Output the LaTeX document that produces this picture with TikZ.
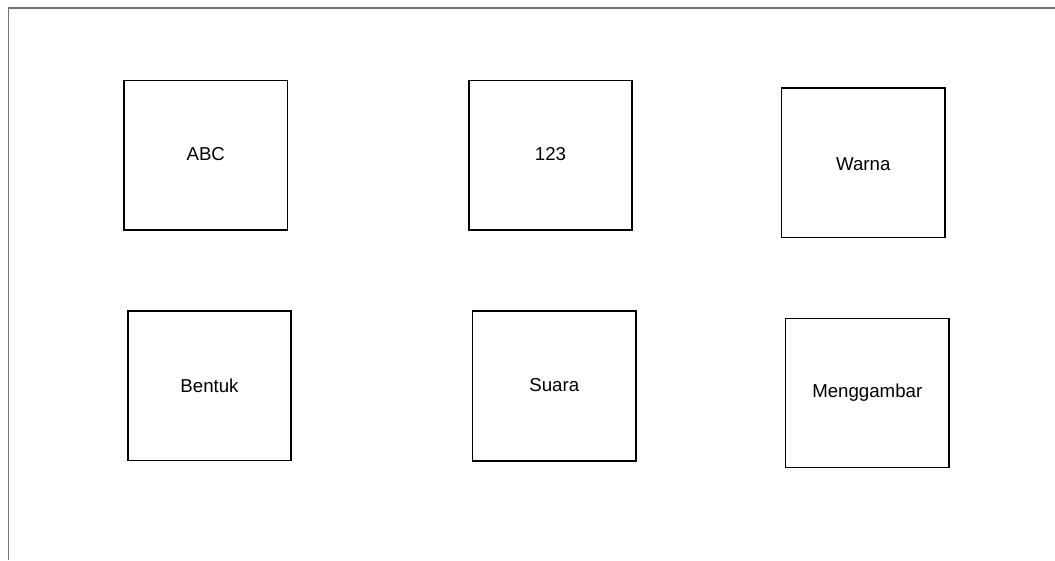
\documentclass[tikz,border=0pt]{standalone}
\usepackage{fontspec}
\setmainfont{Liberation Sans}
\begin{document}
\begin{tikzpicture}[x=0.75pt,y=-0.75pt,
  card/.style={draw=black,line width=0.8pt,fill=white},
  lbl/.style={font=\fontsize{14}{16}\selectfont,text=black},
  frame/.style={draw=black!55,line width=1.4pt}]
\useasboundingbox (0,0) rectangle (1055,560);
\coordinate (fb) at (8.5,560);
\coordinate (fc) at (8.5,8);
\coordinate (fr) at (1055,8);
\draw[frame] (fb) -- (fc) -- (fr);
\draw[card] (124,80.5) rectangle (287.5,230) node[midway,lbl,yshift=1pt] (a) {ABC};
\draw[card] (469,80.5) rectangle (632,230) node[midway,lbl,yshift=1pt] (b) {123};
\draw[card] (781.5,88) rectangle (945,237.5) node[midway,lbl,yshift=-1pt] (c) {Warna};
\draw[card] (128,311) rectangle (291,460.5) node[midway,lbl] (d) {Bentuk};
\draw[card] (472.5,311) rectangle (636,461) node[midway,lbl,yshift=0.5pt] (e) {Suara};
\draw[card] (785.5,318.5) rectangle (949,467.5) node[midway,lbl] (f) {Menggambar};
\end{tikzpicture}
\end{document}
